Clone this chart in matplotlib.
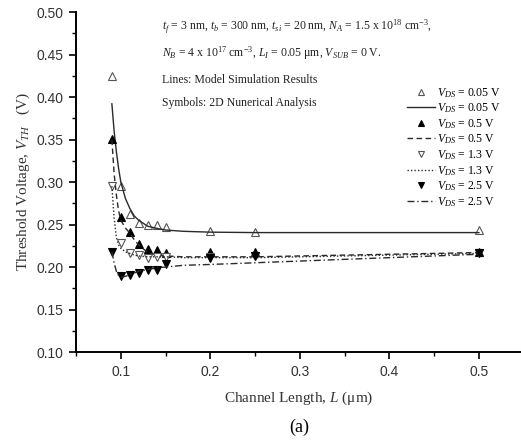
import numpy as np
import matplotlib
matplotlib.use('Agg')
import matplotlib.pyplot as plt
from matplotlib.ticker import MultipleLocator

plt.rcParams['font.family'] = 'Liberation Serif'
plt.rcParams['mathtext.fontset'] = 'custom'
plt.rcParams['mathtext.rm'] = 'Liberation Serif'
plt.rcParams['mathtext.it'] = 'Liberation Serif:italic'

# 2D numerical points (symbols), channel length in um, V_TH in V
L_pts = [0.09, 0.10, 0.11, 0.12, 0.13, 0.14, 0.15, 0.20, 0.25, 0.50]
vth_sym_005 = [0.425, 0.295, 0.262, 0.252, 0.250, 0.249, 0.247, 0.242, 0.2415, 0.243]
vth_sym_05 = [0.351, 0.259, 0.241, 0.227, 0.221, 0.220, 0.217, 0.218, 0.2175, 0.218]
vth_sym_13 = [0.295, 0.228, 0.217, 0.214, 0.211, 0.212, 0.212, 0.212, 0.213, 0.216]
vth_sym_25 = [0.218, 0.189, 0.191, 0.193, 0.196, 0.197, 0.204, 0.211, 0.213, 0.216]

# model curves (lines)
L_model = [0.09, 0.0925, 0.095, 0.0975, 0.10, 0.105, 0.11, 0.115, 0.12, 0.13,
           0.14, 0.15, 0.17, 0.20, 0.25, 0.30, 0.40, 0.50]
vth_mod_005 = [0.392, 0.360, 0.336, 0.316, 0.300, 0.281, 0.269, 0.260, 0.255, 0.248,
               0.2455, 0.2435, 0.242, 0.241, 0.2405, 0.2405, 0.2405, 0.2405]
vth_mod_05 = [0.350, 0.310, 0.285, 0.266, 0.255, 0.246, 0.240, 0.232, 0.226, 0.217,
              0.214, 0.213, 0.212, 0.212, 0.212, 0.213, 0.215, 0.217]
vth_mod_13 = [0.295, 0.258, 0.235, 0.226, 0.222, 0.218, 0.216, 0.214, 0.213, 0.212,
              0.212, 0.212, 0.211, 0.211, 0.211, 0.212, 0.214, 0.216]
vth_mod_25 = [0.218, 0.205, 0.195, 0.190, 0.188, 0.189, 0.191, 0.193, 0.195, 0.197,
              0.199, 0.200, 0.202, 0.203, 0.205, 0.207, 0.211, 0.215]

vds_labels = ['0.05', '0.5', '1.3', '2.5']

fig = plt.figure(figsize=(5.21, 4.43), dpi=100)
ax = fig.add_axes([0.146, 0.2054, 0.854, 0.7675])

lc = '#2a2a2a'
mk = dict(linestyle='none', markersize=5.8, markeredgewidth=0.8)

h = []
h += ax.plot(L_pts, vth_sym_005, marker='^', mfc='white', mec='#555555', **mk)
h += ax.plot(L_model, vth_mod_005, '-', color=lc, lw=1.0)
h += ax.plot(L_pts, vth_sym_05, marker='^', mfc='black', mec='black', **mk)
h += ax.plot(L_model, vth_mod_05, color=lc, lw=1.0, dashes=(4, 2.5))
h += ax.plot(L_pts, vth_sym_13, marker='v', mfc='white', mec='#555555', **mk)
h += ax.plot(L_model, vth_mod_13, color=lc, lw=1.0, dashes=(1, 1.5))
h += ax.plot(L_pts, vth_sym_25, marker='v', mfc='black', mec='black', **mk)
h += ax.plot(L_model, vth_mod_25, color=lc, lw=1.0, dashes=(5, 2, 1, 2))

labels = []
for v in vds_labels:
    labels += [r'$V_{DS}$ = %s V' % v] * 2
leg = ax.legend(h, labels, loc='upper right', frameon=False,
                bbox_to_anchor=(507 / 521, 1 - 80 / 443), bbox_transform=fig.transFigure,
                fontsize=8.5, handlelength=2.4, handletextpad=0.2, labelspacing=0.15,
                borderpad=0, markerscale=0.8)

ax.set_xlim(0.05, 0.547)
ax.set_ylim(0.10, 0.50)
ax.xaxis.set_major_locator(MultipleLocator(0.1))
ax.xaxis.set_minor_locator(MultipleLocator(0.05))
ax.yaxis.set_major_locator(MultipleLocator(0.05))
ax.yaxis.set_minor_locator(MultipleLocator(0.025))
ax.xaxis.set_major_formatter(plt.FuncFormatter(lambda v, p: '%.1f' % v))
ax.yaxis.set_major_formatter(plt.FuncFormatter(lambda v, p: '%.2f' % v))

for s in ['top', 'right']:
    ax.spines[s].set_visible(False)
for s in ['left', 'bottom']:
    ax.spines[s].set_linewidth(1.4)
ax.tick_params(which='major', direction='out', length=5, width=1.2,
               labelsize=10, labelcolor='#333333', pad=4)
ax.tick_params(which='minor', direction='out', length=3, width=1.0)
for t in ax.get_xticklabels() + ax.get_yticklabels():
    t.set_fontfamily('Liberation Sans')

ax.set_xlabel(r'Channel Length, $L$ (μm)', fontsize=11, color='#333333', labelpad=8)
ax.set_ylabel(r'Threshold Voltage, $V_{TH}$   (V)', fontsize=11, color='#333333', labelpad=3)

# device parameters
tx = 162 / 521
fig.text(tx, 1 - 27 / 443,
         r'$t_f$ = 3 nm, $t_b$ = 300 nm, $t_{si}$ = 20 nm, $N_A$ = 1.5 x 10$^{18}$ cm$^{-3}$,',
         fontsize=8.5, va='center', color='#222222')
fig.text(tx, 1 - 53 / 443,
         r'$N_B$ = 4 x 10$^{17}$ cm$^{-3}$, $L_I$ = 0.05 μm, $V_{SUB}$ = 0 V.',
         fontsize=8.5, va='center', color='#222222')
fig.text(tx, 1 - 80 / 443, 'Lines: Model Simulation Results',
         fontsize=8.5, va='center', color='#222222')
fig.text(tx, 1 - 103 / 443, 'Symbols: 2D Nunerical Analysis',
         fontsize=8.5, va='center', color='#222222')

fig.text(299 / 521, 1 - 427 / 443, '(a)', fontsize=13, ha='center', va='center')

fig.savefig('out.png', dpi=100)
